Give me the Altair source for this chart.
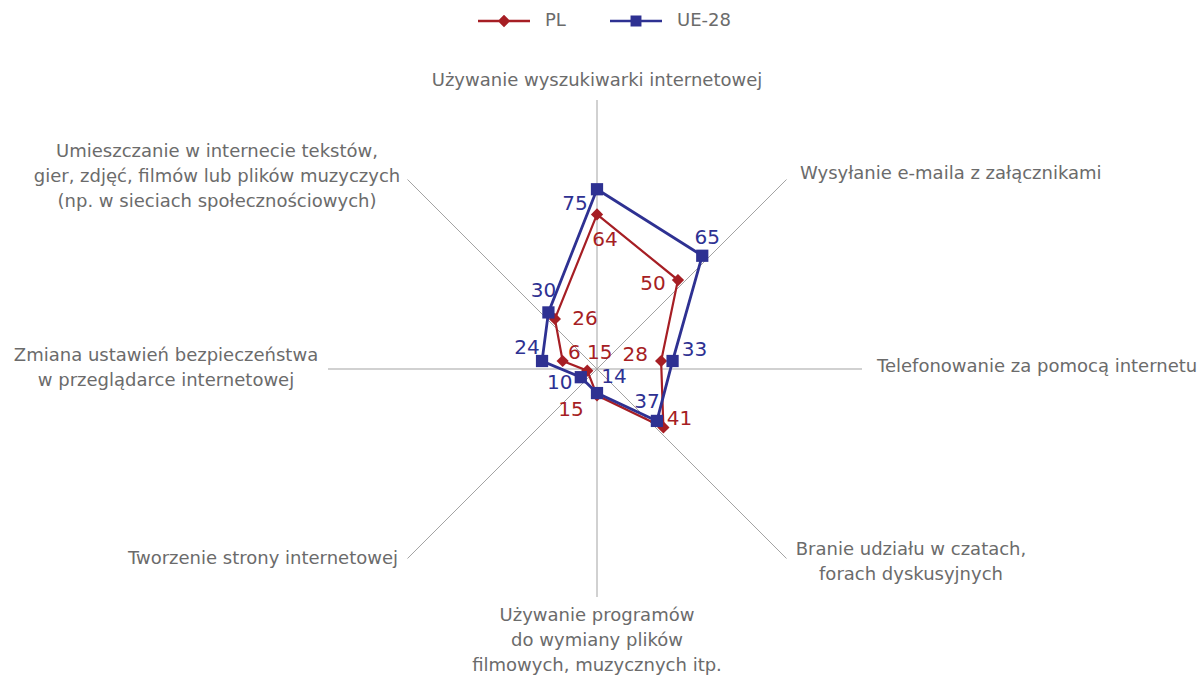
import math
import altair as alt
import pandas as pd

# ---- data -------------------------------------------------------------
categories = [
    "Używanie wyszukiwarki internetowej",
    "Wysyłanie e-maila z załącznikami",
    "Telefonowanie za pomocą internetu",
    "Branie udziału w czatach,\nforach dyskusyjnych",
    "Używanie programów\ndo wymiany plików\nfilmowych, muzycznych itp.",
    "Tworzenie strony internetowej",
    "Zmiana ustawień bezpieczeństwa\nw przeglądarce internetowej",
    "Umieszczanie w internecie tekstów,\ngier, zdjęć, filmów lub plików muzyczych\n(np. w sieciach społecznościowych)",
]
pl_values = [64, 50, 28, 41, 15, 6, 15, 26]
ue_values = [75, 65, 33, 37, 14, 10, 24, 30]
series_names = ["PL", "UE-28"]

# ---- layout / style ---------------------------------------------------
W, H = 1199, 677
K = 2.29            # pixels per percentage point
CX, CY = 597, 361   # pixel position of the value origin
GRID_DY = 8         # the spokes cross a little below the value origin
SPOKE_LEN = [269, 268, 265, 268, 228, 268, 269, 268]   # px
FONT = "DejaVu Sans"
TEXT_GREY = "#6b6b6b"
SPOKE_GREY = "#a3a3a3"
COLORS = ["#a61e24", "#2e3192"]

# category label anchors (px, first line) and alignment
LABEL_POS = [
    (597, 81, "center"),
    (800, 174, "left"),
    (877, 367, "left"),
    (911, 550, "center"),
    (597, 616, "center"),
    (398, 559, "right"),
    (166, 356, "center"),
    (217, 152, "center"),
]
# value label offsets from their marker (px: right, down)
PL_LABEL_OFF = [(8, 26), (-25, 4), (-26, -6), (16, -8), (-26, 15), (-13, -18), (37, -8), (30, 0)]
UE_LABEL_OFF = [(-22, 15), (5, -18), (22, -11), (-10, -19), (17, -16), (-21, 6), (-15, -13), (-5, -21)]


def polar(r, i):
    a = math.radians(i * 45)
    return r * math.sin(a), r * math.cos(a)


# ---- tables -----------------------------------------------------------
rows, labels = [], []
for s, (name, vals, offs) in enumerate(zip(series_names, [pl_values, ue_values],
                                           [PL_LABEL_OFF, UE_LABEL_OFF])):
    for i, v in enumerate(vals + vals[:1]):
        x, y = polar(v, i % 8)
        rows.append({"series": name, "order": i, "x": x, "y": y, "value": v,
                     "point": i < 8})
    for i, v in enumerate(vals):
        x, y = polar(v, i)
        dx, dy = offs[i]
        labels.append({"series": name, "value": str(v),
                       "x": x + dx / K, "y": y - dy / K})
series_df = pd.DataFrame(rows)
value_df = pd.DataFrame(labels)

spokes = []
for i, L in enumerate(SPOKE_LEN):
    ex, ey = polar(L / K, i)
    spokes.append({"x": 0.0, "y": -GRID_DY / K, "x2": ex, "y2": ey - GRID_DY / K})
spoke_df = pd.DataFrame(spokes)

cat_df = pd.DataFrame([
    {"label": c, "x": (px - CX) / K, "y": (CY - py) / K, "align": al}
    for c, (px, py, al) in zip(categories, LABEL_POS)
])

# ---- scales -----------------------------------------------------------
xs = alt.Scale(domain=[-CX / K, (W - CX) / K], range=[0, W], nice=False, zero=False)
ys = alt.Scale(domain=[-(H - CY) / K, CY / K], range=[H, 0], nice=False, zero=False)
X = lambda f="x": alt.X(f, type="quantitative", scale=xs, axis=None)
Y = lambda f="y": alt.Y(f, type="quantitative", scale=ys, axis=None)
color_scale = alt.Scale(domain=series_names, range=COLORS)

spoke_layer = alt.Chart(spoke_df).mark_rule(color=SPOKE_GREY, strokeWidth=1).encode(
    x=X(), y=Y(), x2="x2:Q", y2="y2:Q")

cat_layers = [
    alt.Chart(cat_df[cat_df["align"] == al]).mark_text(
        align=al, baseline="middle", font=FONT, fontSize=18, color=TEXT_GREY,
        lineBreak="\n", lineHeight=25).encode(x=X(), y=Y(), text="label:N")
    for al in ["left", "center", "right"]
]

line_layers = [
    alt.Chart(series_df[series_df["series"] == name]).mark_line(
        color=col, strokeWidth=sw).encode(x=X(), y=Y(), order="order:Q")
    for name, col, sw in zip(series_names, COLORS, [2.2, 2.8])
]

point_layer = alt.Chart(series_df[series_df["point"]]).mark_point(
    filled=True, size=150, opacity=1).encode(
    x=X(), y=Y(),
    color=alt.Color("series:N", scale=color_scale, legend=None),
    shape=alt.Shape("series:N", scale=alt.Scale(domain=series_names,
                                                 range=["diamond", "square"]),
                    legend=None),
)

# legend symbols: a short line with the series marker in its middle
PL_SYMBOL = "M-1,-0.052H1V0.052H-1Z M0,-0.24L0.24,0L0,0.24L-0.24,0Z"
UE_SYMBOL = "M-1,-0.052H1V0.052H-1Z M-0.21,-0.21H0.21V0.21H-0.21Z"
legend_df = pd.DataFrame({"series": pd.Series([], dtype=str),
                          "x": pd.Series([], dtype=float),
                          "y": pd.Series([], dtype=float)})
legend_spec = alt.Legend(
    title=None, orient="none", direction="horizontal",
    legendX=478, legendY=-5, symbolSize=2704, symbolStrokeWidth=0,
    symbolOpacity=1, labelOffset=15, columnPadding=44,
    labelFont=FONT, labelFontSize=18, labelColor=TEXT_GREY)
legend_layer = alt.Chart(legend_df).mark_point(filled=True, size=2704).encode(
    x=X(), y=Y(),
    color=alt.Color("series:N", scale=alt.Scale(domain=series_names, range=COLORS),
                    legend=legend_spec),
    shape=alt.Shape("series:N", scale=alt.Scale(domain=series_names,
                                                 range=[PL_SYMBOL, UE_SYMBOL]),
                    legend=legend_spec),
)

value_layers = [
    alt.Chart(value_df[value_df["series"] == name]).mark_text(
        align="center", baseline="middle", font=FONT, fontSize=20, color=col
    ).encode(x=X(), y=Y(), text="value:N")
    for name, col in zip(series_names, COLORS)
]

chart = alt.layer(
    spoke_layer, *cat_layers, *line_layers, point_layer, *value_layers, legend_layer
).resolve_scale(shape="independent", color="independent").properties(
    width=W, height=H, padding=0, autosize=alt.AutoSizeParams(type="none"),
    background="white",
).configure_view(stroke=None)

chart.save("out.html", embed_options={"renderer": "svg", "actions": False})
